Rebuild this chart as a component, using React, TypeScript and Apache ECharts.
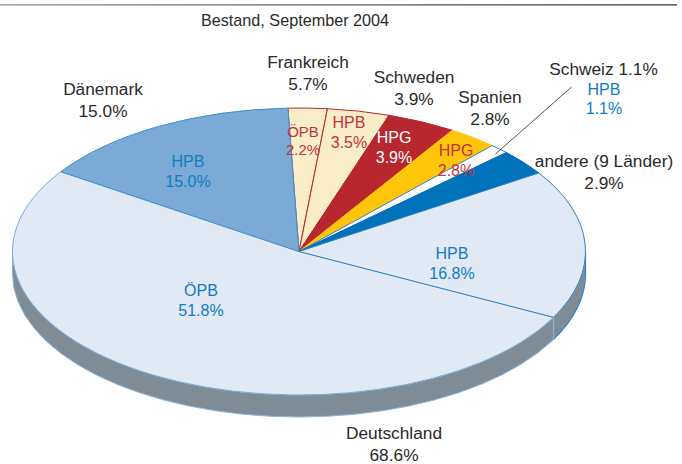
import React, { useEffect, useRef } from "react";
import * as echarts from "echarts";

const title = "Bestand, September 2004";
// slices, clockwise from the Deutschland ÖPB slice
const sliceValues = [51.8, 15.0, 2.2, 3.5, 3.9, 2.8, 1.1, 2.9, 16.8];
const sliceTypes = ["ÖPB", "HPB", "ÖPB", "HPB", "HPG", "HPG", "HPB", "", "HPB"];
const sliceFills = ["#e1e9f5", "#7aaad5", "#faeec8", "#faeec8", "#b9272e", "#fec50a", "#ffffff", "#0071bb", "#e1e9f5"];
const sliceStrokes = ["#7aaad6", "#3f8fca", "#b9272e", "#b9272e", "#b9272e", "#fec50a", "#2a82c4", "#0071bb", "#2a82c4"];
const innerColors = ["#0f7cc4", "#0f7cc4", "#c0343b", "#c0343b", "#ffffff", "#c0343b", "", "", "#0f7cc4"];
const innerPos: number[][] = [[201, 290], [188, 161], [303, 131], [349, 122], [394, 137], [456, 150], [], [], [452, 253]];
const drawOrder = [0, 2, 3, 4, 5, 6, 7, 8, 1];
const countries = ["Deutschland", "Dänemark", "Frankreich", "Schweden", "Spanien", "andere (9 Länder)"];
const countryShares = ["68.6%", "15.0%", "5.7%", "3.9%", "2.8%", "2.9%"];
const countryPos = [[394, 433], [103, 89], [308, 62], [414, 77], [490, 97], [604, 161]];

const CX = 299, CY = 251.5, RX = 286.5, RY = 143.5, DEPTH = 22, START_DEG = 27.3;
const TEXT = "#2a2a2a", FONT = "'Liberation Sans', Arial, sans-serif";

const pt = (deg: number, dy = 0) => {
  const a = (deg * Math.PI) / 180;
  return [CX + RX * Math.cos(a), CY + RY * Math.sin(a) + dy];
};

const renderWall = () => {
  const r = pt(0), l = pt(180), rb = pt(0, DEPTH), lb = pt(180, DEPTH);
  const sp = pt(START_DEG), spb = pt(START_DEG, DEPTH);
  return {
    type: "group",
    children: [
      {
        type: "path",
        shape: { pathData: `M${r[0]} ${r[1]}L${rb[0]} ${rb[1]}A${RX} ${RY} 0 0 1 ${lb[0]} ${lb[1]}L${l[0]} ${l[1]}A${RX} ${RY} 0 0 0 ${r[0]} ${r[1]}Z` },
        style: { fill: "#7f8c96", stroke: "#8db6dc", lineWidth: 1 },
      },
      {
        type: "path",
        shape: { pathData: `M${r[0]} ${r[1]}L${rb[0]} ${rb[1]}A${RX} ${RY} 0 0 1 ${spb[0]} ${spb[1]}` },
        style: { fill: "none", stroke: "#2a82c4", lineWidth: 1.2 },
      },
      {
        type: "line",
        shape: { x1: sp[0], y1: sp[1], x2: spb[0], y2: spb[1] },
        style: { stroke: "#8db6dc", lineWidth: 1.2 },
      },
    ],
  };
};

const renderSlice = (params: any, api: any) => {
  const i = api.value(1);
  const before = sliceValues.slice(0, i).reduce((s, v) => s + v, 0);
  const a0 = START_DEG + (before / 100) * 360;
  const a1 = a0 + (api.value(0) / 100) * 360;
  const p0 = pt(a0), p1 = pt(a1);
  const large = a1 - a0 > 180 ? 1 : 0;
  return {
    type: "path",
    shape: { pathData: `M${CX} ${CY}L${p0[0]} ${p0[1]}A${RX} ${RY} 0 ${large} 1 ${p1[0]} ${p1[1]}Z` },
    style: { fill: sliceFills[i], stroke: sliceStrokes[i], lineWidth: 1 },
  };
};

const txt = (x: number, y: number, text: string, fill: string, size: number) => ({
  type: "text",
  x,
  y,
  style: { text, fill, font: `${size}px ${FONT}`, textAlign: "center", textVerticalAlign: "middle" },
});

export default function App() {
  const ref = useRef<HTMLDivElement>(null);
  useEffect(() => {
    document.body.style.margin = "0";
    const chart = echarts.init(ref.current!, null, { renderer: "svg" });
    const graphic: any[] = [
      {
        type: "rect",
        shape: { x: 0, y: 4.2, width: 677, height: 1.3 },
        style: {
          fill: new echarts.graphic.LinearGradient(0, 0, 1, 0, [
            { offset: 0, color: "#8a8a8a" },
            { offset: 1, color: "#333333" },
          ]),
        },
      },
      txt(295, 19.5, title, TEXT, 16.2),
      { type: "line", shape: { x1: 571.5, y1: 87, x2: 495.5, y2: 154 }, style: { stroke: "#2a2a2a", lineWidth: 0.8 } },
      txt(603.5, 69, `Schweiz ${sliceValues[6].toFixed(1)}%`, TEXT, 17.3),
      txt(604, 89, sliceTypes[6], "#0f7cc4", 16),
      txt(604, 108, `${sliceValues[6].toFixed(1)}%`, "#0f7cc4", 16),
    ];
    countries.forEach((c, i) => {
      graphic.push(txt(countryPos[i][0], countryPos[i][1], c, TEXT, 17.3));
      graphic.push(txt(countryPos[i][0], countryPos[i][1] + 22, countryShares[i], TEXT, 17.3));
    });
    sliceValues.forEach((v, i) => {
      if (!sliceTypes[i] || !innerPos[i].length) return;
      const small = i === 2;
      const gap = small ? 18 : 20.5;
      graphic.push(txt(innerPos[i][0], innerPos[i][1], sliceTypes[i], innerColors[i], small ? 15 : 16));
      graphic.push(txt(innerPos[i][0], innerPos[i][1] + gap, `${v.toFixed(1)}%`, innerColors[i], small ? 15 : 16));
    });
    chart.setOption({
      animation: false,
      backgroundColor: "#ffffff",
      series: [
        { type: "custom", coordinateSystem: "none", silent: true, z: 1, data: [[0]], renderItem: renderWall },
        { type: "custom", coordinateSystem: "none", silent: true, z: 2, data: drawOrder.map((i) => [sliceValues[i], i]), renderItem: renderSlice },
      ],
      graphic: { elements: graphic.map((g) => ({ ...g, z: 10 })) },
    });
    return () => chart.dispose();
  }, []);
  return <div ref={ref} style={{ width: 682, height: 464 }} />;
}
